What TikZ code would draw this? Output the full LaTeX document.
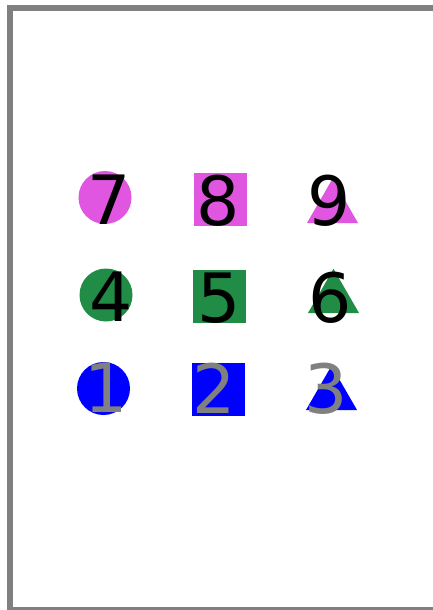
\documentclass[tikz,border=0pt]{standalone}
\usepackage{fontspec}
\newfontfamily\digitfont{DejaVu Sans}
\usetikzlibrary{shapes.geometric}
\definecolor{orchidpink}{RGB}{224,86,224}
\definecolor{leafgreen}{RGB}{32,140,70}
\definecolor{pureblue}{RGB}{0,0,255}

\begin{document}
\begin{tikzpicture}[
  dot/.style={circle,inner sep=0pt,minimum size=53pt},
  box/.style={rectangle,inner sep=0pt,minimum size=53pt},
  tri/.style={regular polygon,regular polygon sides=3,inner sep=0pt,minimum size=59pt},
  num/.style={font=\digitfont\fontsize{68}{68}\selectfont,anchor=base,inner sep=0pt},
  frame/.style={draw=gray,line width=6pt},
  x=1pt,y=-1pt
]
  \useasboundingbox (0,0) rectangle (432,610);
  \draw[frame] (460,8) -- (10,8) -- (10,610) -- (460,610);

  % markers, one row per colour
  \foreach \n/\x/\y/\c in {7/105/197.5/orchidpink,4/106/295/leafgreen,1/103.5/388.5/pureblue}
    \node[dot,fill=\c] (dot\n) at (\x,\y) {};
  \foreach \n/\x/\y/\c in {8/220.5/199.5/orchidpink,5/219.5/296.5/leafgreen,2/218.5/389/pureblue}
    \node[box,fill=\c] (box\n) at (\x,\y) {};
  \foreach \n/\x/\y/\c in {9/332.5/208.3/orchidpink,6/333.5/298.3/leafgreen,3/331.5/395.3/pureblue}
    \node[tri,fill=\c] (tri\n) at (\x,\y) {};

  % labels on top
  \foreach \n/\x/\y/\c in {7/109.5/224/black,8/218.5/225/black,9/329.5/225/black,
                           4/111/321/black,5/219.5/322/black,6/330/322/black,
                           1/106/412/gray,2/214/413/gray,3/326/413/gray}
    \node[num,text=\c] (num\n) at (\x,\y) {\n};
\end{tikzpicture}
\end{document}
